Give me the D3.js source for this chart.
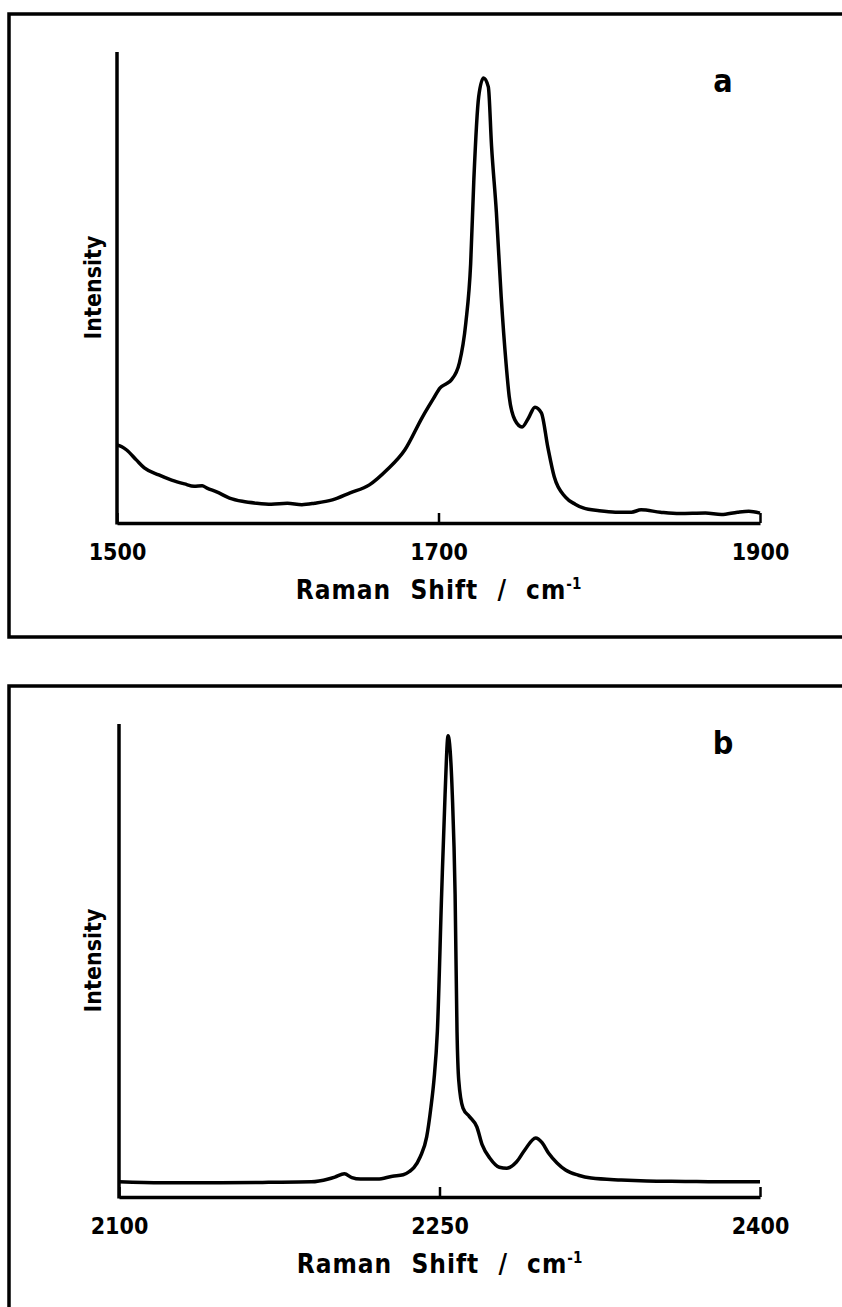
<!DOCTYPE html>
<html>
<head>
<meta charset="utf-8">
<script src="https://cdn.jsdelivr.net/npm/d3@7"></script>
<style>
  body { margin: 0; background: #fff; }
  svg text {
    font-family: "DejaVu Sans Condensed", "DejaVu Sans", sans-serif;
    font-stretch: condensed;
    font-weight: bold;
    fill: #000;
  }
</style>
</head>
<body>
<div id="chart"></div>
<script>
// spectrum a (C=O region)
var ramanA = [1500, 1503, 1506, 1512, 1517, 1526, 1534, 1542, 1548, 1553, 1556, 1562, 1570, 1578, 1587, 1596, 1606, 1615, 1623, 1634, 1645, 1657, 1668, 1679, 1690, 1697, 1701, 1705, 1708, 1713, 1717, 1720, 1722, 1725, 1728, 1731, 1733, 1736, 1739, 1742, 1744, 1747.5, 1752, 1756, 1760, 1764, 1768, 1772, 1779, 1785, 1790, 1800, 1810, 1820, 1826, 1838, 1850, 1866, 1876, 1886, 1893, 1900];
var intensityA = [16.6, 16.2, 15.5, 13.4, 11.7, 10.2, 9.1, 8.3, 7.8, 7.9, 7.4, 6.6, 5.3, 4.6, 4.2, 4.0, 4.2, 3.9, 4.2, 4.9, 6.4, 8.1, 11.3, 15.5, 22.5, 26.5, 28.7, 29.6, 30.4, 34, 42.5, 55, 73, 90.5, 94.5, 92.6, 80, 66, 48, 34, 26.8, 21.9, 20.4, 22.3, 24.6, 23.4, 16.1, 9.8, 5.5, 4.0, 3.2, 2.6, 2.3, 2.3, 2.8, 2.3, 2.0, 2.1, 1.8, 2.3, 2.5, 2.1];

// spectrum b (C≡N region)
var ramanB = [2100, 2120, 2145, 2170, 2190, 2198, 2201, 2205.5, 2209, 2213, 2221, 2228, 2233, 2236, 2238, 2241, 2244, 2246, 2247.4, 2249, 2251, 2252.6, 2254, 2256, 2257.3, 2258.2, 2259, 2261, 2264, 2267.5, 2270, 2273.6, 2278, 2281.5, 2286, 2290, 2295, 2298, 2301, 2305, 2309, 2315, 2321, 2335, 2347, 2365, 2380, 2400];
var intensityB = [3.2, 3.0, 3.0, 3.1, 3.2, 3.8, 4.2, 4.9, 4.1, 3.8, 3.8, 4.4, 4.7, 5.4, 6.2, 8.5, 12.7, 19, 24.7, 35, 64, 85, 97.5, 85, 64, 35, 24.7, 18.8, 17, 14.8, 11, 8.2, 6.3, 6.1, 7.4, 10, 12.5, 11.5, 9.3, 7.2, 5.7, 4.6, 4.0, 3.6, 3.4, 3.3, 3.2, 3.2];

var ticksA = [1500, 1700, 1900];
var ticksB = [2100, 2250, 2400];

var svg = d3.select("#chart")
  .append("svg")
  .attr("width", 842)
  .attr("height", 1307);

// one framed panel
function drawPanel(p) {
  // frame (right/bottom edges run off the page)
  svg.append("path")
    .attr("d", "M" + p.frameX1 + "," + p.frameY0 + "H" + p.frameX0 + "V" + p.frameY1 + (p.frameBottom ? "H" + p.frameX1 : ""))
    .attr("fill", "none")
    .attr("stroke", "#000")
    .attr("stroke-width", 3.5);

  var x = d3.scaleLinear().domain(p.xDomain).range([p.left, p.right]);
  var y = d3.scaleLinear().domain([0, 100]).range([p.bottom, p.top]);

  // x axis, ticks pointing up into the plot
  var gx = svg.append("g")
    .attr("transform", "translate(0," + p.bottom + ")")
    .call(d3.axisBottom(x).tickValues(p.ticks).tickFormat(d3.format("d"))
      .tickSizeInner(-10).tickSizeOuter(0).tickPadding(21));
  gx.select(".domain").attr("stroke-width", 3.5).attr("stroke", "#000");
  gx.selectAll(".tick line").attr("stroke-width", 2.5).attr("stroke", "#000");
  gx.selectAll(".tick text")
    .attr("font-size", 23)
    .attr("font-family", null);

  // y axis, plain line
  svg.append("line")
    .attr("x1", p.left).attr("x2", p.left)
    .attr("y1", p.top).attr("y2", p.bottom + 1.5)
    .attr("stroke", "#000").attr("stroke-width", 3.5);

  var line = d3.line()
    .x(function(d) { return x(d[0]); })
    .y(function(d) { return y(d[1]); })
    .curve(d3.curveMonotoneX);

  svg.append("path")
    .datum(d3.zip(p.raman, p.intensity))
    .attr("d", line)
    .attr("fill", "none")
    .attr("stroke", "#000")
    .attr("stroke-width", 3.5)
    .attr("stroke-linejoin", "round");

  // x axis title
  var t = svg.append("text")
    .attr("x", (p.left + p.right) / 2)
    .attr("y", p.bottom + 76)
    .attr("text-anchor", "middle")
    .attr("font-size", 26)
    .attr("letter-spacing", 1)
    .attr("word-spacing", 10);
  t.append("tspan").text("Raman Shift / cm");
  t.append("tspan").attr("dy", -10).attr("font-size", 15).attr("letter-spacing", 0).text("-1");

  // y axis title
  svg.append("text")
    .attr("transform", "translate(101," + ((p.top + p.bottom) / 2) + ") rotate(-90)")
    .attr("text-anchor", "middle")
    .attr("font-size", 23)
    .text("Intensity");

  // panel letter
  svg.append("text")
    .attr("x", p.right - 37)
    .attr("y", p.letterY)
    .attr("text-anchor", "middle")
    .attr("font-size", 32)
    .text(p.letter);
}

drawPanel({
  frameX0: 9, frameX1: 850, frameY0: 14, frameY1: 637, frameBottom: true,
  left: 117, right: 760, top: 52, bottom: 523,
  xDomain: [1500, 1900], ticks: ticksA,
  raman: ramanA, intensity: intensityA,
  letter: "a", letterY: 92
});

drawPanel({
  frameX0: 9, frameX1: 850, frameY0: 686, frameY1: 1320, frameBottom: false,
  left: 119, right: 760, top: 724, bottom: 1197,
  xDomain: [2100, 2400], ticks: ticksB,
  raman: ramanB, intensity: intensityB,
  letter: "b", letterY: 754
});
</script>
</body>
</html>
